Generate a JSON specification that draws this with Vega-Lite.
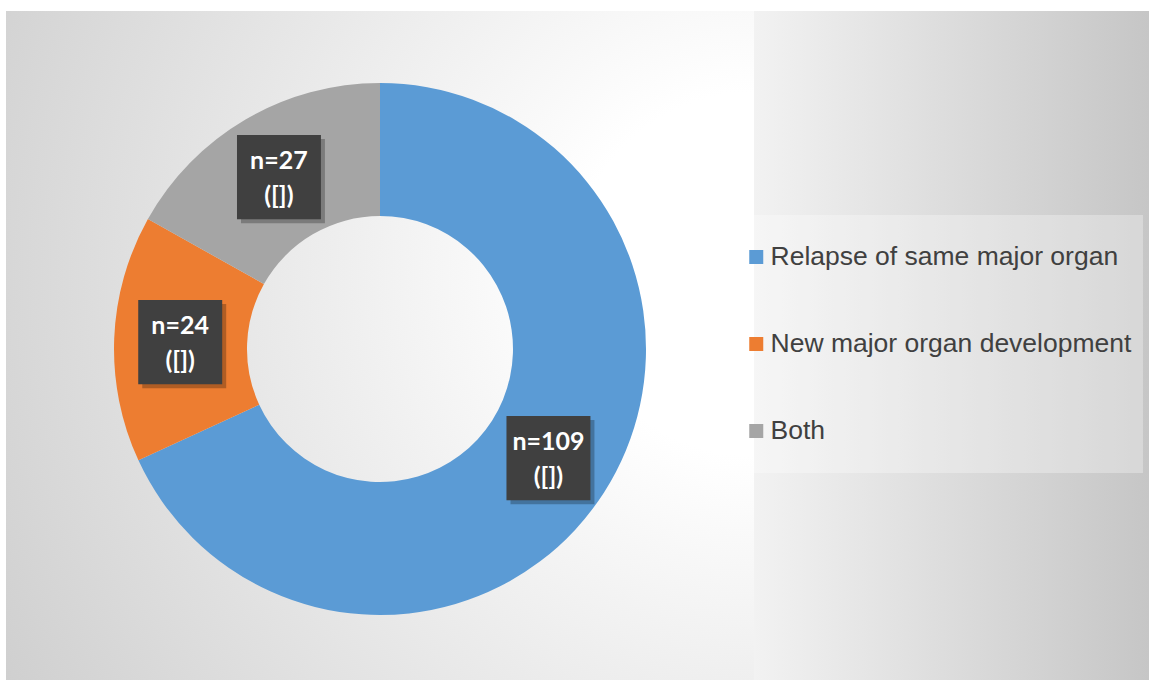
{
  "$schema": "https://vega.github.io/schema/vega-lite/v6.json",
  "padding": {"left": 6, "top": 11, "right": 0, "bottom": 0},
  "background": "#ffffff",
  "spacing": 0,
  "config": {"view": {"stroke": null}},
  "resolve": {"scale": {"color": "shared"}, "legend": {"color": "shared"}},
  "hconcat": [
    {
      "width": 748,
      "height": 676,
      "view": {
        "stroke": null,
        "fill": {
          "gradient": "radial",
          "x1": 1.0, "y1": 0.4, "r1": 0,
          "x2": 1.0, "y2": 0.4, "r2": 1.35,
          "stops": [
            {"offset": 0, "color": "#ffffff"},
            {"offset": 0.18, "color": "#ffffff"},
            {"offset": 1, "color": "#c4c4c4"}
          ]
        }
      },
      "data": {
        "values": [
          {"category": "Relapse of same major organ", "count": 109, "label": "n=109\n([])"},
          {"category": "New major organ development", "count": 24, "label": "n=24\n([])"},
          {"category": "Both", "count": 27, "label": "n=27\n([])"}
        ]
      },
      "encoding": {
        "theta": {"field": "count", "type": "quantitative", "stack": true},
        "order": {"field": "category", "type": "nominal", "sort": "descending"}
      },
      "layer": [
        {
          "mark": {"type": "arc", "innerRadius": 133, "outerRadius": 266},
          "encoding": {
            "color": {
              "field": "category",
              "type": "nominal",
              "scale": {
                "domain": ["Relapse of same major organ", "New major organ development", "Both"],
                "range": ["#5b9bd5", "#ed7d31", "#a5a5a5"]
              },
              "legend": {
                "title": null,
                "orient": "none",
                "legendX": 726,
                "legendY": 204,
                "padding": 11,
                "clipHeight": 62,
                "rowPadding": 25,
                "symbolType": "square",
                "symbolSize": 196,
                "symbolStrokeWidth": 0,
                "labelOffset": 1,
                "labelFont": "Liberation Sans",
                "labelFontSize": 26.5,
                "labelColor": "#404040",
                "labelLimit": 500,
                "fillColor": "rgba(255,255,255,0.3)"
              }
            }
          }
        },
        {
          "mark": {
            "type": "text",
            "radius": 200,
            "text": "■",
            "font": "DejaVu Sans",
            "fontSize": 110,
            "opacity": 0.25,
            "dx": 4,
            "dy": 1,
            "baseline": "middle",
            "align": "center",
            "color": "#000000"
          }
        },
        {
          "mark": {
            "type": "text",
            "radius": 200,
            "text": "■",
            "font": "DejaVu Sans",
            "fontSize": 110,
            "dy": -3,
            "baseline": "middle",
            "align": "center",
            "color": "#404040"
          }
        },
        {
          "mark": {
            "type": "text",
            "radius": 200,
            "font": "Lato",
            "fontWeight": "bold",
            "fontSize": 25,
            "lineHeight": 35,
            "lineBreak": "\n",
            "dy": -15,
            "baseline": "middle",
            "align": "center",
            "color": "#ffffff"
          },
          "encoding": {
            "text": {"field": "label", "type": "nominal"}
          }
        }
      ]
    },
    {
      "width": 395,
      "height": 676,
      "view": {
        "stroke": null,
        "fill": {
          "gradient": "linear",
          "x1": 0, "y1": 0, "x2": 1, "y2": 0,
          "stops": [
            {"offset": 0, "color": "#f2f2f2"},
            {"offset": 1, "color": "#c6c6c6"}
          ]
        }
      },
      "data": {"values": []},
      "mark": "point"
    }
  ]
}
